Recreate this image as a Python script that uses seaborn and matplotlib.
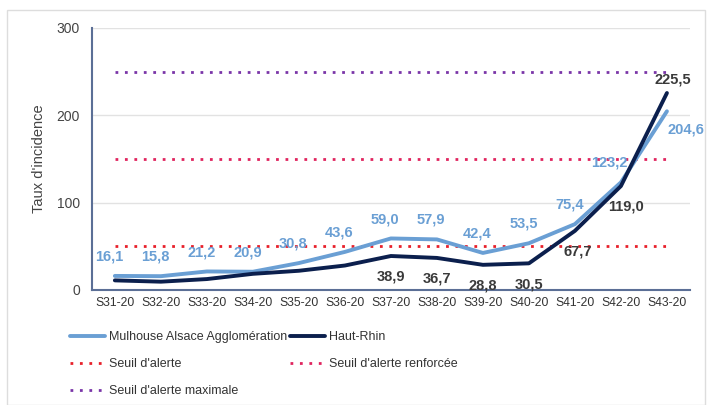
import matplotlib
matplotlib.use("Agg")
import matplotlib.pyplot as plt
import seaborn as sns
import pandas as pd
from matplotlib.patches import Rectangle
from matplotlib.ticker import FixedLocator

weeks = ['S31-20', 'S32-20', 'S33-20', 'S34-20', 'S35-20', 'S36-20', 'S37-20',
         'S38-20', 'S39-20', 'S40-20', 'S41-20', 'S42-20', 'S43-20']
mulhouse = [16.1, 15.8, 21.2, 20.9, 30.8, 43.6, 59.0, 57.9, 42.4, 53.5, 75.4, 123.2, 204.6]
haut_rhin = [11.0, 9.5, 12.5, 18.5, 22.0, 28.0, 38.9, 36.7, 28.8, 30.5, 67.7, 119.0, 225.5]
haut_rhin_labels = [None, None, None, None, None, None, '38,9', '36,7', '28,8', '30,5',
                    '67,7', '119,0', '225,5']
seuils = {"Seuil d'alerte": 50, "Seuil d'alerte renforcée": 150, "Seuil d'alerte maximale": 250}

c_mul = '#6a9fd4'
c_hr = '#0b1f4d'
c_seuil = {"Seuil d'alerte": '#e8202a', "Seuil d'alerte renforcée": '#e0245e',
           "Seuil d'alerte maximale": '#7a35a8'}

sns.set_style('white')
plt.rcParams['font.family'] = ['Liberation Sans', 'DejaVu Sans']

fig = plt.figure(figsize=(7.12, 4.05), dpi=100)
ax = fig.add_axes([0.129, 0.284, 0.840, 0.647])

df = pd.DataFrame({'week': weeks * 2,
                   'taux': mulhouse + haut_rhin,
                   'serie': ['Mulhouse Alsace Agglomération'] * 13 + ['Haut-Rhin'] * 13})
for name, val in seuils.items():
    sns.lineplot(x=weeks, y=[val] * len(weeks), ax=ax, color=c_seuil[name],
                 linestyle=(0, (1, 2.4)), linewidth=2.0, label=name)
sns.lineplot(data=df, x='week', y='taux', hue='serie', ax=ax,
             palette={'Mulhouse Alsace Agglomération': c_mul, 'Haut-Rhin': c_hr},
             linewidth=2.8)

ax.set_xlim(-0.5, 12.5)
ax.set_ylim(0, 300)
ax.set_yticks([0, 100, 200, 300])
ax.yaxis.grid(True, color='#e2e2e2', linewidth=1)
ax.set_axisbelow(True)
for s in ['top', 'right']:
    ax.spines[s].set_visible(False)
for s in ['left', 'bottom']:
    ax.spines[s].set_color('#5b6f96')
    ax.spines[s].set_linewidth(1.5)
ax.tick_params(axis='x', length=0, labelsize=8.7, colors='#333333', pad=5)
ax.xaxis.set_minor_locator(FixedLocator([i - 0.5 for i in range(14)]))
ax.tick_params(axis='x', which='minor', length=5, width=1.2, color='#5b6f96', direction='out')
ax.tick_params(axis='y', length=5, width=1.2, color='#5b6f96', labelsize=10, colors='#444444')
ax.set_xlabel('')
ax.set_ylabel("Taux d'incidence", fontsize=10.5, color='#444444', labelpad=8)

# data labels
mul_offsets = {11: (-8, 14), 12: (14, -13)}
for i, v in enumerate(mulhouse):
    dx, dy = mul_offsets.get(i, (-4, 14))
    ax.annotate(f'{v:.1f}'.replace('.', ','), (i, v), xytext=(dx, dy),
                textcoords='offset points', ha='center', va='center',
                fontsize=10.5, fontweight='bold', color=c_mul)
hr_offsets = {10: (2, -15), 11: (4, -15), 12: (4, 10)}
for i, (v, lab) in enumerate(zip(haut_rhin, haut_rhin_labels)):
    if lab is None:
        continue
    dx, dy = hr_offsets.get(i, (0, -15))
    ax.annotate(lab, (i, v), xytext=(dx, dy), textcoords='offset points',
                ha='center', va='center', fontsize=10.5, fontweight='bold', color='#3a3a3a')

handles, labels = ax.get_legend_handles_labels()
ax.get_legend().remove()
hmap = dict(zip(labels, handles))
order = ['Mulhouse Alsace Agglomération', "Seuil d'alerte", "Seuil d'alerte maximale",
         'Haut-Rhin', "Seuil d'alerte renforcée"]
fig.legend([hmap[o] for o in order], order, ncol=2, loc='upper left',
           bbox_to_anchor=(0.083, 0.21), frameon=False, fontsize=9,
           handlelength=2.8, handletextpad=0.3, columnspacing=0.2, labelspacing=1.2,
           labelcolor='#333333')

fig.patches.append(Rectangle((7 / 712, 0), 698 / 712, 395 / 405, transform=fig.transFigure,
                             fill=False, edgecolor='#dddddd', linewidth=1))

fig.savefig('out.png', dpi=100)
